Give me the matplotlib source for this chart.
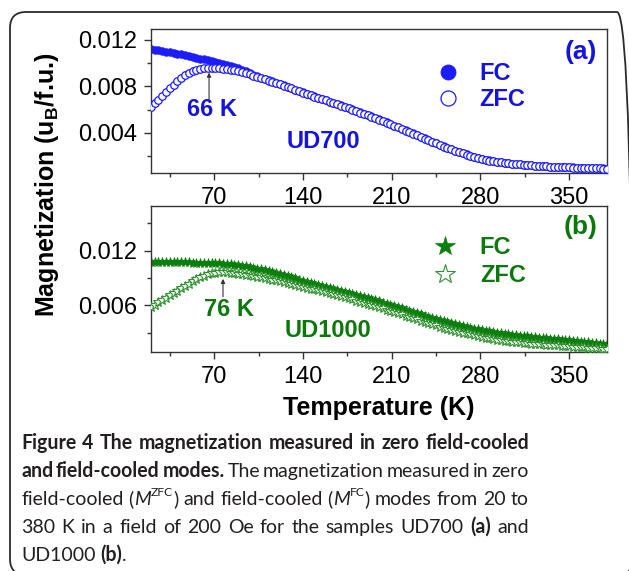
import numpy as np
import matplotlib
matplotlib.use("Agg")
import matplotlib.pyplot as plt
from matplotlib.patches import FancyBboxPatch

# ---------------- data ----------------
T = np.arange(20, 381, 3)  # temperature grid (K)

zfc_a = np.array([
    620, 653, 686, 718, 750, 782, 813, 842, 868, 892,
    912, 928, 941, 951, 957, 960, 960, 958, 955, 951,
    946, 941, 935, 928, 920, 911, 901, 891, 881, 870,
    860, 849, 838, 827, 815, 804, 792, 781, 769, 757,
    745, 734, 722, 711, 700, 689, 678, 666, 655, 644,
    633, 622, 610, 599, 587, 575, 563, 551, 539, 526,
    513, 500, 487, 474, 461, 447, 434, 420, 407, 393,
    380, 366, 352, 338, 324, 310, 297, 284, 271, 259,
    247, 236, 225, 214, 204, 195, 186, 178, 171, 164,
    158, 153, 148, 144, 140, 137, 134, 131, 128, 125,
    122, 120, 118, 116, 114, 112, 111, 109, 108, 106,
    105, 104, 103, 102, 101, 100, 99, 98, 96, 95,
    94]) * 1e-5

fc_a = np.array([
    1120, 1114, 1108, 1102, 1096, 1090, 1084, 1078, 1072, 1065,
    1058, 1051, 1044, 1037, 1030, 1022, 1015, 1008, 1000, 993,
    985, 976, 966, 955, 943, 929, 914, 899, 885, 874,
    863, 852, 841, 830, 818, 807, 795, 784, 772, 760,
    748, 737, 725, 714, 703, 692, 681, 669, 658, 647,
    636, 625, 613, 602, 590, 578, 566, 554, 542, 529,
    516, 503, 490, 477, 464, 450, 437, 423, 410, 396,
    383, 369, 355, 341, 327, 313, 300, 287, 274, 262,
    250, 239, 228, 217, 207, 197, 188, 180, 172, 165,
    159, 154, 149, 145, 141, 138, 135, 132, 129, 126,
    123, 121, 119, 117, 115, 113, 112, 110, 109, 107,
    106, 105, 104, 103, 102, 101, 100, 99, 97, 96,
    95]) * 1e-5

zfc_b = np.array([
    580, 606, 632, 658, 684, 710, 736, 762, 788, 813,
    838, 862, 884, 905, 923, 938, 949, 956, 960, 962,
    960, 956, 952, 947, 942, 936, 930, 923, 915, 908,
    900, 891, 882, 873, 864, 854, 844, 835, 825, 815,
    805, 795, 784, 774, 763, 752, 742, 731, 720, 709,
    698, 687, 675, 664, 652, 640, 628, 616, 603, 591,
    578, 565, 552, 539, 526, 512, 499, 486, 472, 459,
    445, 432, 418, 405, 391, 379, 366, 354, 343, 331,
    320, 310, 300, 290, 280, 271, 261, 252, 244, 236,
    228, 222, 216, 210, 205, 201, 196, 192, 188, 184,
    180, 177, 174, 171, 168, 165, 162, 159, 156, 153,
    150, 147, 144, 141, 138, 136, 133, 130, 128, 125,
    122]) * 1e-5

fc_b = np.array([
    1070, 1071, 1072, 1072, 1072, 1073, 1072, 1072, 1071, 1071,
    1070, 1069, 1069, 1068, 1067, 1066, 1065, 1064, 1061, 1058,
    1055, 1051, 1046, 1042, 1035, 1028, 1020, 1012, 1003, 994,
    985, 975, 964, 954, 942, 930, 918, 906, 894, 882,
    870, 859, 848, 837, 826, 815, 804, 793, 782, 771,
    760, 749, 737, 726, 714, 702, 691, 679, 667, 654,
    642, 629, 617, 604, 591, 578, 565, 551, 538, 525,
    512, 499, 485, 472, 460, 448, 436, 424, 413, 401,
    390, 380, 371, 361, 352, 344, 335, 327, 320, 312,
    305, 299, 293, 287, 282, 277, 272, 267, 262, 257,
    253, 249, 245, 241, 236, 233, 229, 225, 221, 218,
    214, 210, 206, 202, 197, 193, 189, 184, 180, 176,
    173]) * 1e-5

x_ticks = [70, 140, 210, 280, 350]
y_ticks_a = [0.004, 0.008, 0.012]
y_ticks_b = [0.006, 0.012]
peak_a = 66
peak_b = 76

# ---------------- style ----------------
plt.rcParams['font.family'] = ['Liberation Sans', 'DejaVu Sans']
plt.rcParams['mathtext.fontset'] = 'custom'
plt.rcParams['mathtext.rm'] = 'Liberation Sans'
plt.rcParams['mathtext.bf'] = 'Liberation Sans:bold'
plt.rcParams['mathtext.it'] = 'Liberation Sans:italic'

BLUE_M = '#1c1cff'
BLUE_T = '#1414e0'
GREEN_M = '#0b7f0b'
GREEN_Z = '#2f912f'
GREEN_T = '#0a780a'
SPINE = '#333333'

W, H = 629, 571
fig = plt.figure(figsize=(W / 100, H / 100), dpi=100)


def px_axes(l, t, r, b):
    return fig.add_axes([l / W, 1 - b / H, (r - l) / W, (b - t) / H])


ax1 = px_axes(150.7, 29, 607.3, 172.7)
ax2 = px_axes(150.7, 206, 607.3, 351.7)

for ax in (ax1, ax2):
    ax.set_xlim(20, 380)
    ax.set_xticks(x_ticks)
    ax.set_xticks([35, 105, 175, 245, 315], minor=True)
    for s in ax.spines.values():
        s.set_color(SPINE)
        s.set_linewidth(1.0)
    ax.tick_params(which='both', direction='out', color=SPINE, width=1.0,
                   top=False, right=False, labelsize=17)
    ax.tick_params(which='major', length=5, pad=5)
    ax.tick_params(which='minor', length=3)

ax1.set_ylim(0.0006, 0.0129)
ax1.set_yticks(y_ticks_a)
ax1.set_yticks([0.002, 0.006, 0.010], minor=True)
ax1.set_yticklabels(['0.004', '0.008', '0.012'])

ax2.set_ylim(0.0009, 0.0169)
ax2.set_yticks(y_ticks_b)
ax2.set_yticks([0.003, 0.009, 0.015], minor=True)
ax2.set_yticklabels(['0.006', '0.012'])

# ---------------- panel (a) ----------------
l_fc_a, = ax1.plot(T, fc_a, ls='none', marker='o', ms=5.4, mfc=BLUE_M,
                   mec=BLUE_M, mew=0.6, label='FC', zorder=2)
l_zfc_a, = ax1.plot(T, zfc_a, ls='none', marker='o', ms=5.4, mfc='white',
                    mec=BLUE_M, mew=0.9, label='ZFC', zorder=3)

bold17 = dict(fontsize=17, fontweight='bold')
ax1.text(372, 0.01089, '(a)', color=BLUE_T, ha='right', va='center',
         fontsize=19, fontweight='bold')
ax1.text(68.4, 0.0060, '66 K', color=BLUE_T, ha='center', va='center', **bold17)
ax1.text(156, 0.00329, 'UD700', color=BLUE_T, ha='center', va='center', **bold17)
ax1.annotate('', xy=(peak_a, 0.00917), xytext=(peak_a, 0.00685),
             arrowprops=dict(arrowstyle='-|>', color='#333333', lw=0.8,
                             mutation_scale=6, shrinkA=0, shrinkB=0))

leg1 = ax1.legend(handles=[l_fc_a, l_zfc_a], loc='upper left',
                  bbox_to_anchor=(0.631, 0.767), frameon=False, borderpad=0,
                  borderaxespad=0, handlelength=0.8, handletextpad=0.92,
                  labelspacing=0.12, markerscale=2.0, numpoints=1,
                  prop=dict(family='Liberation Sans', weight='bold', size=17),
                  labelcolor=BLUE_T)

# ---------------- panel (b) ----------------
l_fc_b, = ax2.plot(T, fc_b, ls='none', marker='*', ms=7.5, mfc=GREEN_M,
                   mec=GREEN_M, mew=0.5, label='FC', zorder=2)
l_zfc_b, = ax2.plot(T, zfc_b, ls='none', marker='*', ms=7.5, mfc='white',
                    mec=GREEN_Z, mew=0.8, label='ZFC', zorder=3)

ax2.text(372, 0.0146, '(b)', color=GREEN_T, ha='right', va='center',
         fontsize=19, fontweight='bold')
ax2.text(81.6, 0.0055, '76 K', color=GREEN_T, ha='center', va='center', **bold17)
ax2.text(159.6, 0.00325, 'UD1000', color=GREEN_T, ha='center', va='center', **bold17)
ax2.annotate('', xy=(peak_b + 1, 0.0089), xytext=(peak_b + 1, 0.00695),
             arrowprops=dict(arrowstyle='-|>', color='#333333', lw=0.8,
                             mutation_scale=6, shrinkA=0, shrinkB=0))

leg2 = ax2.legend(handles=[l_fc_b, l_zfc_b], loc='upper left',
                  bbox_to_anchor=(0.6236, 0.791), frameon=False, borderpad=0,
                  borderaxespad=0, handlelength=0.8, handletextpad=1.08,
                  labelspacing=0.2, markerscale=2.0, numpoints=1,
                  prop=dict(family='Liberation Sans', weight='bold', size=17),
                  labelcolor=GREEN_T)

ax2.set_xlabel('Temperature (K)', fontsize=18, fontweight='bold', labelpad=6)
fig.text(47 / W, 1 - 185 / H, r'Magnetization (u$_{\mathbf{B}}$/f.u.)',
         rotation=90, ha='center', va='center', fontsize=18, fontweight='bold')

# ---------------- rounded frame ----------------
frame = FancyBboxPatch((0.10, -0.04), 6.23, 5.63,
                       boxstyle='round,pad=0,rounding_size=0.16',
                       transform=fig.dpi_scale_trans, fill=False,
                       lw=1.3, ec='#2b2b2b')
fig.add_artist(frame)

# ---------------- caption (justified) ----------------
CAP_FONT = 'Lato'
CAP_COLOR = '#231f20'
renderer = fig.canvas.get_renderer()

B = dict(fontweight='bold')
R = dict(fontweight='normal')
I = dict(fontweight='normal', fontstyle='italic')

caption = [
    [[('Figure', B)], [('4', B)], [('The', B)], [('magnetization', B)],
     [('measured', B)], [('in', B)], [('zero', B)], [('field-cooled', B)]],
    [[('and', B)], [('field-cooled', B)], [('modes.', B)], [('The', R)],
     [('magnetization', R)], [('measured', R)], [('in', R)], [('zero', R)]],
    [[('field-cooled', R)], [('(', R), ('M', I), ('ZFC', 'sup'), (')', R)],
     [('and', R)], [('field-cooled', R)], [('(', R), ('M', I), ('FC', 'sup'), (')', R)],
     [('modes', R)], [('from', R)], [('20', R)], [('to', R)]],
    [[('380', R)], [('K', R)], [('in', R)], [('a', R)], [('field', R)], [('of', R)],
     [('200', R)], [('Oe', R)], [('for', R)], [('the', R)], [('samples', R)],
     [('UD700', R)], [('(a)', B)], [('and', R)]],
    [[('UD1000', R)], [('(b)', B), ('.', R)]],
]


def make_text(x, y, s, props, size):
    if props == 'sup':
        return fig.text(x / W, 1 - (y - size * 0.45 / 0.72) / H, s,
                        fontsize=size * 0.62, family=CAP_FONT, color=CAP_COLOR,
                        va='baseline', ha='left')
    return fig.text(x / W, 1 - y / H, s, fontsize=size, family=CAP_FONT,
                    color=CAP_COLOR, va='baseline', ha='left', **props)


def seg_w(s, props, size):
    t = make_text(0, 0, s, props, size)
    w = t.get_window_extent(renderer).width
    t.remove()
    return w


X0, X1 = 21.0, 529.0
probe = 10.0
words0 = [w[0][0] for w in caption[0]]
nat = seg_w(' '.join(words0), B, probe)
cap_size = probe * (X1 - X0) / nat * 0.985

space_w = seg_w('a a', R, cap_size) - seg_w('aa', R, cap_size)
baselines = [449, 477, 505, 533, 561]

for li, line in enumerate(caption):
    widths = [[seg_w(s, p, cap_size) for s, p in word] for word in line]
    totals = [sum(ws) for ws in widths]
    if li < len(caption) - 1:
        gap = (X1 - X0 - sum(totals)) / (len(line) - 1)
    else:
        gap = space_w
    x = X0
    for word, ws in zip(line, widths):
        for (s, p), w in zip(word, ws):
            make_text(x, baselines[li], s, p, cap_size)
            x += w
        x += gap

fig.savefig('out.png', dpi=100)
